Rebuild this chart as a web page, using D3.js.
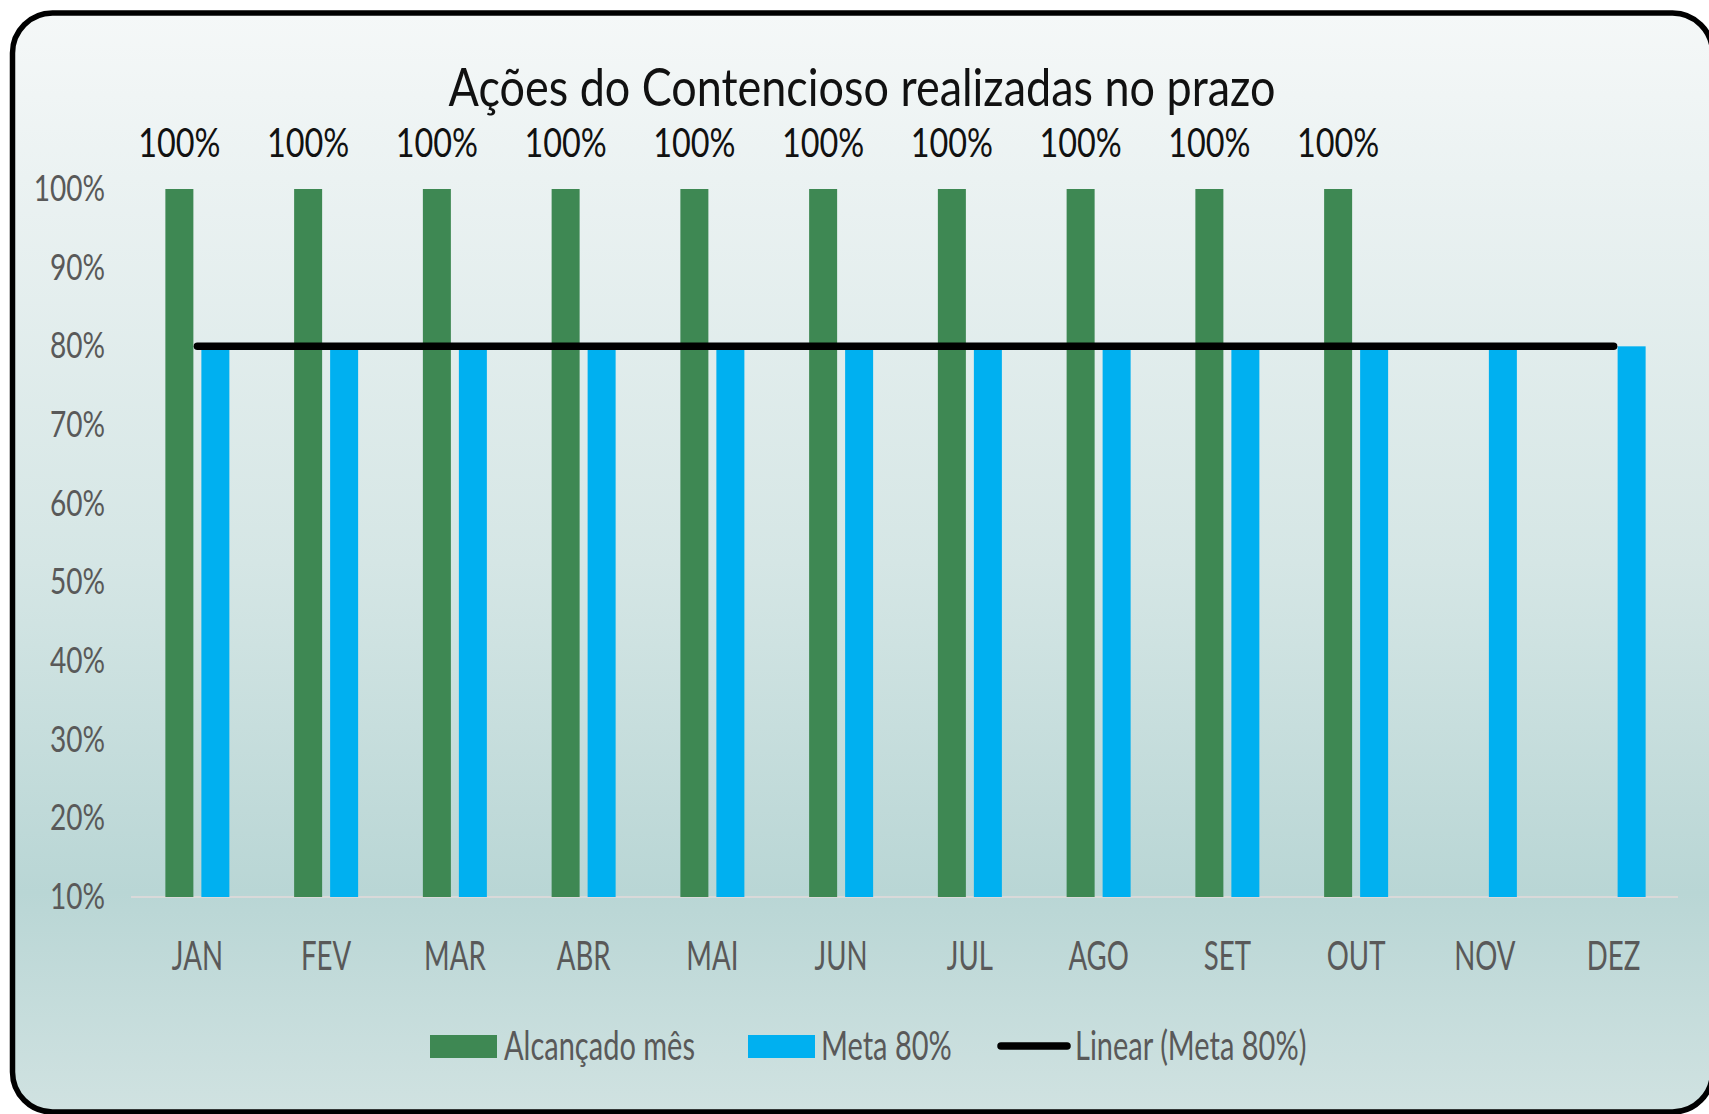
<!DOCTYPE html>
<html>
<head>
<meta charset="utf-8">
<script src="https://cdn.jsdelivr.net/npm/d3@7"></script>
<style>
  html, body { margin: 0; padding: 0; background: #ffffff; }
  svg { display: block; }
  text { font-family: Lato, "Open Sans", sans-serif; }
</style>
</head>
<body>
<svg id="chart" width="1709" height="1114"></svg>
<script>
// Months of the year
const months = ["JAN", "FEV", "MAR", "ABR", "MAI", "JUN", "JUL", "AGO", "SET", "OUT", "NOV", "DEZ"];
// Share of actions done on time each month (no data yet for NOV/DEZ)
const alcancado = [1, 1, 1, 1, 1, 1, 1, 1, 1, 1, null, null];
// Monthly target
const meta = [0.8, 0.8, 0.8, 0.8, 0.8, 0.8, 0.8, 0.8, 0.8, 0.8, 0.8, 0.8];
// Value axis ticks
const yTicks = [0.1, 0.2, 0.3, 0.4, 0.5, 0.6, 0.7, 0.8, 0.9, 1.0];
const seriesNames = ["Alcançado mês", "Meta 80%", "Linear (Meta 80%)"];
const titleText = "Ações do Contencioso realizadas no prazo";

const GREEN = "#3E8853", BLUE = "#00B0F0", GREY = "#595959";
const svg = d3.select("#chart");

// Horizontal compression that gives the narrow, tall lettering
function condense(sel, k) {
  sel.each(function () {
    const w = this.getComputedTextLength();
    d3.select(this).attr("textLength", w * k).attr("lengthAdjust", "spacingAndGlyphs");
  });
}

// Card background
const defs = svg.append("defs");
const grad = defs.append("linearGradient").attr("id", "bg").attr("x1", 0).attr("y1", 0).attr("x2", 0).attr("y2", 1);
[[0, "#F5F8F8"], [0.15, "#EBF2F2"], [0.5, "#D5E6E5"], [0.8, "#B9D6D5"], [1, "#D0E2E1"]]
  .forEach(([o, c]) => grad.append("stop").attr("offset", o).attr("stop-color", c));

svg.append("rect")
  .attr("x", 12.5).attr("y", 13).attr("width", 1700).attr("height", 1099)
  .attr("rx", 40).attr("ry", 40)
  .attr("fill", "url(#bg)")
  .attr("stroke", "#000").attr("stroke-width", 5.5);

// Scales
const x = d3.scaleBand().domain(months).range([133, 1678]).padding(0);
const y = d3.scaleLinear().domain([0.1, 1.0]).range([897, 189]);
const barW = 28, gap = 8;

// Value axis labels
const yAxis = svg.append("g").attr("transform", "translate(131,0)")
  .call(d3.axisLeft(y).tickValues(yTicks).tickFormat(d3.format(".0%")).tickSize(0).tickPadding(26));
yAxis.select(".domain").remove();
yAxis.selectAll("text")
  .attr("fill", GREY).style("font-size", "36px").style("font-family", "Lato, sans-serif");
condense(yAxis.selectAll("text"), 0.78);

// Category axis (month labels) and baseline
const xAxis = svg.append("g").attr("transform", `translate(0,${y(0.1)})`)
  .call(d3.axisBottom(x).tickSize(0).tickPadding(0));
xAxis.select(".domain").remove();
xAxis.append("line")
  .attr("x1", 131).attr("x2", 1678).attr("y1", 0).attr("y2", 0)
  .attr("stroke", "#D9D9D9").attr("stroke-width", 2);
xAxis.selectAll("text")
  .attr("y", 73).attr("dy", 0)
  .attr("fill", GREY).style("font-size", "40px").style("font-family", "Lato, sans-serif");
condense(xAxis.selectAll("text"), 0.69);

// Bars: achieved
const rows = months.map((m, i) => ({ m, a: alcancado[i], t: meta[i] }));
svg.append("g").selectAll("rect")
  .data(rows.filter(d => d.a != null))
  .join("rect")
  .attr("x", d => x(d.m) + x.bandwidth() / 2 - gap / 2 - barW)
  .attr("width", barW)
  .attr("y", d => y(d.a))
  .attr("height", d => y(0.1) - y(d.a))
  .attr("fill", GREEN);

// Bars: target
svg.append("g").selectAll("rect")
  .data(rows)
  .join("rect")
  .attr("x", d => x(d.m) + x.bandwidth() / 2 + gap / 2)
  .attr("width", barW)
  .attr("y", d => y(d.t))
  .attr("height", d => y(0.1) - y(d.t))
  .attr("fill", BLUE);

// Value labels on achieved bars
const labels = svg.append("g").selectAll("text")
  .data(rows.filter(d => d.a != null))
  .join("text")
  .attr("x", d => x(d.m) + x.bandwidth() / 2 - gap / 2 - barW / 2)
  .attr("y", 157)
  .attr("text-anchor", "middle")
  .attr("fill", "#111")
  .style("font-size", "40px")
  .text(d => d3.format(".0%")(d.a));
condense(labels, 0.81);

// Linear trendline of the target series (least squares fit)
const n = meta.length;
const xs = d3.range(1, n + 1);
const mx = d3.mean(xs), my = d3.mean(meta);
const slope = d3.sum(xs, (v, i) => (v - mx) * (meta[i] - my)) / d3.sum(xs, v => (v - mx) ** 2);
const icpt = my - slope * mx;
const trend = xs.map((v, i) => ({ m: months[i], v: icpt + slope * v }));
svg.append("path")
  .datum(trend)
  .attr("fill", "none")
  .attr("stroke", "#000")
  .attr("stroke-width", 7.5)
  .attr("stroke-linecap", "round")
  .attr("d", d3.line().x(d => x(d.m) + x.bandwidth() / 2).y(d => y(d.v)));

// Title
const title = svg.append("text")
  .attr("x", 862).attr("y", 106)
  .attr("text-anchor", "middle")
  .attr("fill", "#111")
  .style("font-size", "52px")
  .text(titleText);
condense(title, 0.864);

// Legend
const legY = 1046;
const leg = svg.append("g");
const legItems = [
  { name: seriesNames[0], type: "rect", color: GREEN, sx: 430, tx: 504 },
  { name: seriesNames[1], type: "rect", color: BLUE, sx: 748, tx: 821 },
  { name: seriesNames[2], type: "line", color: "#000", sx: 998, tx: 1075 }
];
legItems.forEach(it => {
  if (it.type === "rect") {
    leg.append("rect").attr("x", it.sx).attr("y", legY - 11).attr("width", 67).attr("height", 23).attr("fill", it.color);
  } else {
    leg.append("line").attr("x1", it.sx + 3).attr("x2", it.sx + 69).attr("y1", legY).attr("y2", legY)
      .attr("stroke", it.color).attr("stroke-width", 7.5).attr("stroke-linecap", "round");
  }
  const t = leg.append("text").attr("x", it.tx).attr("y", legY + 14)
    .attr("fill", GREY).style("font-size", "40px").text(it.name);
  condense(t, 0.725);
});
</script>
</body>
</html>
